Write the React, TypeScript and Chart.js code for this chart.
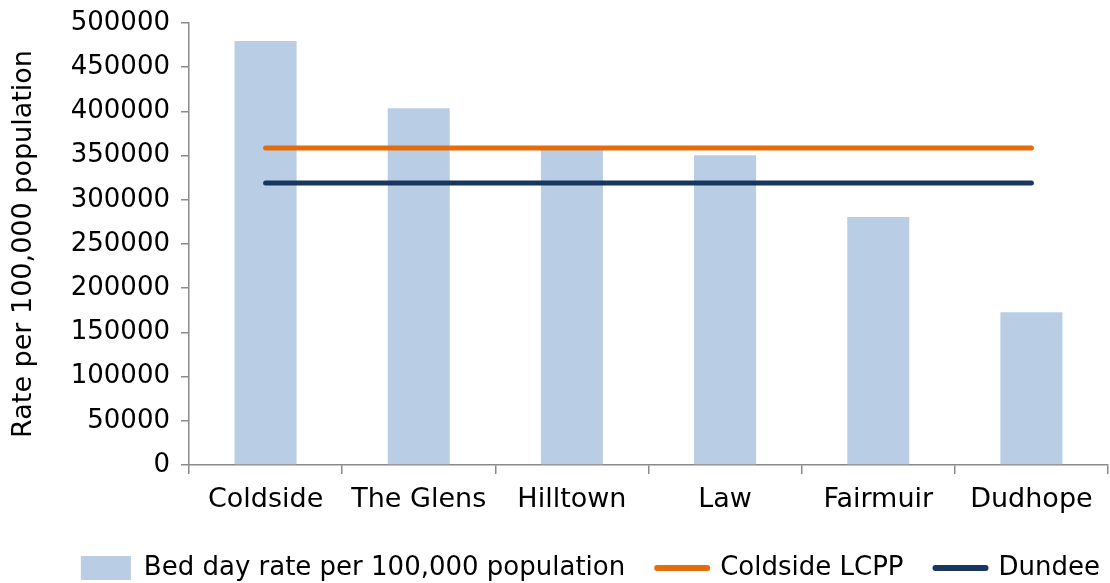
import React, { useEffect, useRef } from "react";
import { Chart, registerables } from "chart.js";

Chart.register(...registerables);

const categories = ["Coldside", "The Glens", "Hilltown", "Law", "Fairmuir", "Dudhope"];
const bedDayRate = [479500, 403500, 356500, 350500, 280500, 172800];
const coldsideLCPP = [358600, 358600, 358600, 358600, 358600, 358600];
const dundee = [319000, 319000, 319000, 319000, 319000, 319000];
const yTickValues = [0, 50000, 100000, 150000, 200000, 250000, 300000, 350000, 400000, 450000, 500000];

const FONT = "'DejaVu Sans', sans-serif";
const AXIS = "#8a8a8a";

const shiftLegend = {
  id: "shiftLegend",
  afterLayout(c: any) {
    if (c.legend) {
      c.legend.left += 24;
      c.legend.right += 24;
    }
  },
};

export default function App() {
  const ref = useRef<HTMLCanvasElement | null>(null);
  useEffect(() => {
    if (!ref.current) return;
    const chart = new Chart(ref.current, {
      type: "bar",
      plugins: [shiftLegend],
      data: {
        labels: categories,
        datasets: [
          {
            type: "bar",
            label: "Bed day rate per 100,000 population",
            data: bedDayRate,
            backgroundColor: "#b9cde5",
            borderWidth: 0,
            categoryPercentage: 1,
            barPercentage: 0.405,
            order: 2,
          },
          {
            type: "line",
            label: "Coldside LCPP",
            data: coldsideLCPP,
            borderColor: "#e46c0a",
            backgroundColor: "#e46c0a",
            borderWidth: 5,
            borderCapStyle: "round",
            pointRadius: 0,
            order: 1,
          },
          {
            type: "line",
            label: "Dundee",
            data: dundee,
            borderColor: "#17375e",
            backgroundColor: "#17375e",
            borderWidth: 5,
            borderCapStyle: "round",
            pointRadius: 0,
            order: 0,
          },
        ] as any,
      },
      options: {
        animation: false,
        responsive: false,
        maintainAspectRatio: false,
        layout: { padding: { left: 8, right: 2, top: 23, bottom: -8 } },
        plugins: {
          tooltip: { enabled: false },
          legend: {
            position: "bottom",
            align: "end",
            labels: {
              font: { family: FONT, size: 26 },
              color: "#000",
              usePointStyle: true,
              pointStyleWidth: 50,
              boxHeight: 24,
              padding: 32,
              generateLabels: (c: any) =>
                c.data.datasets.map((ds: any, i: number) => ({
                  text: ds.label,
                  fillStyle: ds.type === "line" ? ds.borderColor : ds.backgroundColor,
                  strokeStyle: ds.type === "line" ? ds.borderColor : ds.backgroundColor,
                  lineWidth: ds.type === "line" ? 6 : 0,
                  lineCap: "round",
                  pointStyle: ds.type === "line" ? "line" : "rect",
                  datasetIndex: i,
                  hidden: false,
                  fontColor: "#000",
                })),
            },
          },
        },
        scales: {
          x: {
            offset: true,
            afterFit: (s: any) => {
              s.height = 58;
              s.paddingLeft = 0;
              s.paddingRight = 0;
            },
            grid: {
              offset: true,
              drawOnChartArea: false,
              drawTicks: true,
              tickLength: 9,
              color: AXIS,
              lineWidth: 1.5,
            },
            border: { color: AXIS, width: 1.5 },
            ticks: { font: { family: FONT, size: 27 }, color: "#000", padding: 10 },
          },
          y: {
            min: 0,
            max: 500000,
            afterBuildTicks: (s: any) => {
              s.ticks = yTickValues.map((v) => ({ value: v }));
            },
            afterFit: (s: any) => {
              s.width = 181;
              s.paddingTop = 0;
              s.paddingBottom = 0;
            },
            grid: {
              drawOnChartArea: false,
              drawTicks: true,
              tickLength: 8,
              color: AXIS,
              lineWidth: 1.5,
            },
            border: { color: AXIS, width: 1.5 },
            ticks: {
              font: { family: FONT, size: 26 },
              color: "#000",
              padding: 11,
              callback: (v: any) => String(v),
            },
            title: {
              display: true,
              text: "Rate per 100,000 population",
              font: { family: FONT, size: 27 },
              color: "#000",
              padding: { top: 0, bottom: 2 },
            },
          },
        },
      },
    });
    return () => chart.destroy();
  }, []);
  return (
    <div style={{ position: "fixed", left: 0, top: 0, width: 1110, height: 583, background: "#fff" }}>
      <canvas ref={ref} width={1110} height={583} style={{ display: "block" }} />
    </div>
  );
}
